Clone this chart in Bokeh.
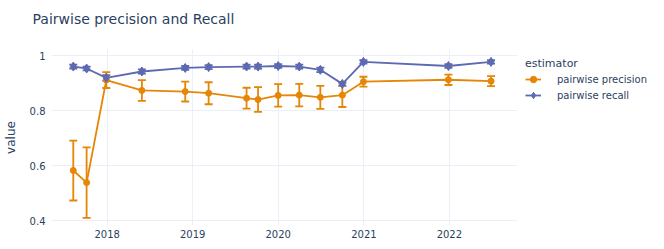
import pandas as pd
from bokeh.plotting import figure
from bokeh.models import (ColumnDataSource, Range1d, Whisker, TeeHead, Legend, LegendItem,
                          FixedTicker, CustomJSTickFormatter, Title)
from bokeh.embed import file_html
from bokeh.resources import INLINE

dates = ["2017-08-09", "2017-10-05", "2017-12-28", "2018-05-29", "2018-11-30",
         "2019-03-10", "2019-08-19", "2019-10-07", "2020-01-01", "2020-03-31",
         "2020-06-29", "2020-10-01", "2020-12-30", "2021-12-28", "2022-06-28"]
precision = [0.582, 0.538, 0.911, 0.873, 0.869, 0.863, 0.845, 0.840, 0.855, 0.856,
             0.848, 0.856, 0.905, 0.912, 0.907]
precision_err = [0.109, 0.128, 0.029, 0.038, 0.036, 0.040, 0.038, 0.045, 0.041, 0.041,
                 0.042, 0.043, 0.018, 0.019, 0.018]
recall = [0.960, 0.953, 0.919, 0.942, 0.955, 0.958, 0.960, 0.960, 0.962, 0.960,
          0.948, 0.897, 0.977, 0.962, 0.977]
recall_err = [0.007, 0.007, 0.010, 0.008, 0.007, 0.007, 0.007, 0.007, 0.007, 0.007,
              0.008, 0.007, 0.006, 0.007, 0.006]
year_ticks = [2018, 2019, 2020, 2021, 2022]
y_ticks = [0.4, 0.6, 0.8, 1.0]

title_text = "Pairwise precision and Recall"
series_names = ["pairwise precision", "pairwise recall"]
colors = ["#E58606", "#5D69B1"]
TEXT = "#2a3f5f"
GRID = "#EBF0F8"
FONT = "DejaVu Sans"

x = pd.to_datetime(dates)
src_p = ColumnDataSource(dict(x=x, y=precision,
                              lo=[v - e for v, e in zip(precision, precision_err)],
                              hi=[v + e for v, e in zip(precision, precision_err)]))
src_r = ColumnDataSource(dict(x=x, y=recall,
                              lo=[v - e for v, e in zip(recall, recall_err)],
                              hi=[v + e for v, e in zip(recall, recall_err)]))

p = figure(frame_width=466, frame_height=176, output_backend="svg", toolbar_location=None,
           x_axis_type="datetime",
           x_range=Range1d(pd.Timestamp("2017-05-08"), pd.Timestamp("2022-10-19")),
           y_range=Range1d(0.382, 1.022),
           min_border_left=44, min_border_right=138, min_border_top=49, min_border_bottom=16)
p.outline_line_color = None
p.background_fill_color = "white"
p.title = None

# spacer between frame and title, then the real title further out
p.add_layout(Title(text=" ", text_font_size="1px", standoff=15), "above")
p.add_layout(Title(text=title_text, text_font=FONT, text_font_size="14px",
                   text_font_style="normal", text_color=TEXT, offset=-19, standoff=10),
             "above")

# axes
tick_ms = [pd.Timestamp(f"{yr}-01-01").value // 10**6 for yr in year_ticks]
p.xaxis.ticker = FixedTicker(ticks=tick_ms)
p.xaxis.formatter = CustomJSTickFormatter(code="return String(new Date(tick).getUTCFullYear());")
p.yaxis.ticker = FixedTicker(ticks=y_ticks)
p.yaxis.formatter = CustomJSTickFormatter(code="return String(Math.round(tick*10)/10);")
for ax in (p.xaxis[0], p.yaxis[0]):
    ax.axis_line_color = None
    ax.major_tick_line_color = None
    ax.minor_tick_line_color = None
    ax.major_tick_in = 0
    ax.major_tick_out = 0
    ax.major_label_text_font = FONT
    ax.major_label_text_font_size = "10px"
    ax.major_label_text_color = TEXT
p.xaxis.major_label_standoff = 4
p.yaxis.major_label_standoff = 6
p.yaxis.axis_label = "value"
p.yaxis.axis_label_text_font = FONT
p.yaxis.axis_label_text_font_size = "12px"
p.yaxis.axis_label_text_font_style = "normal"
p.yaxis.axis_label_text_color = TEXT
p.yaxis.axis_label_standoff = 9
p.xgrid.grid_line_color = GRID
p.ygrid.grid_line_color = GRID
p.xgrid.grid_line_width = 1
p.ygrid.grid_line_width = 1

items = []
for src, name, col, marker, msize in [(src_p, series_names[0], colors[0], "circle", 6),
                                      (src_r, series_names[1], colors[1], "diamond", 9)]:
    w = Whisker(source=src, base="x", lower="lo", upper="hi", dimension="height",
                line_color=col, line_width=1.8,
                upper_head=TeeHead(size=8, line_color=col, line_width=1.8),
                lower_head=TeeHead(size=8, line_color=col, line_width=1.8))
    p.add_layout(w)
    ln = p.line("x", "y", source=src, line_color=col, line_width=1.8)
    sc = p.scatter("x", "y", source=src, marker=marker, size=msize,
                   fill_color=col, line_color=col)
    items.append(LegendItem(label=name, renderers=[ln, sc]))

legend = Legend(items=items, location="top_left", title="estimator",
                title_text_font=FONT, title_text_font_size="11px",
                title_text_font_style="normal", title_text_color=TEXT,
                title_standoff=1,
                label_text_font=FONT, label_text_font_size="10px", label_text_color=TEXT,
                glyph_width=16, glyph_height=16, label_height=16, spacing=0,
                label_standoff=16, padding=8, margin=0,
                border_line_alpha=0, background_fill_alpha=0)
p.add_layout(legend, "right")

open("out.html", "w").write(file_html(p, INLINE))
